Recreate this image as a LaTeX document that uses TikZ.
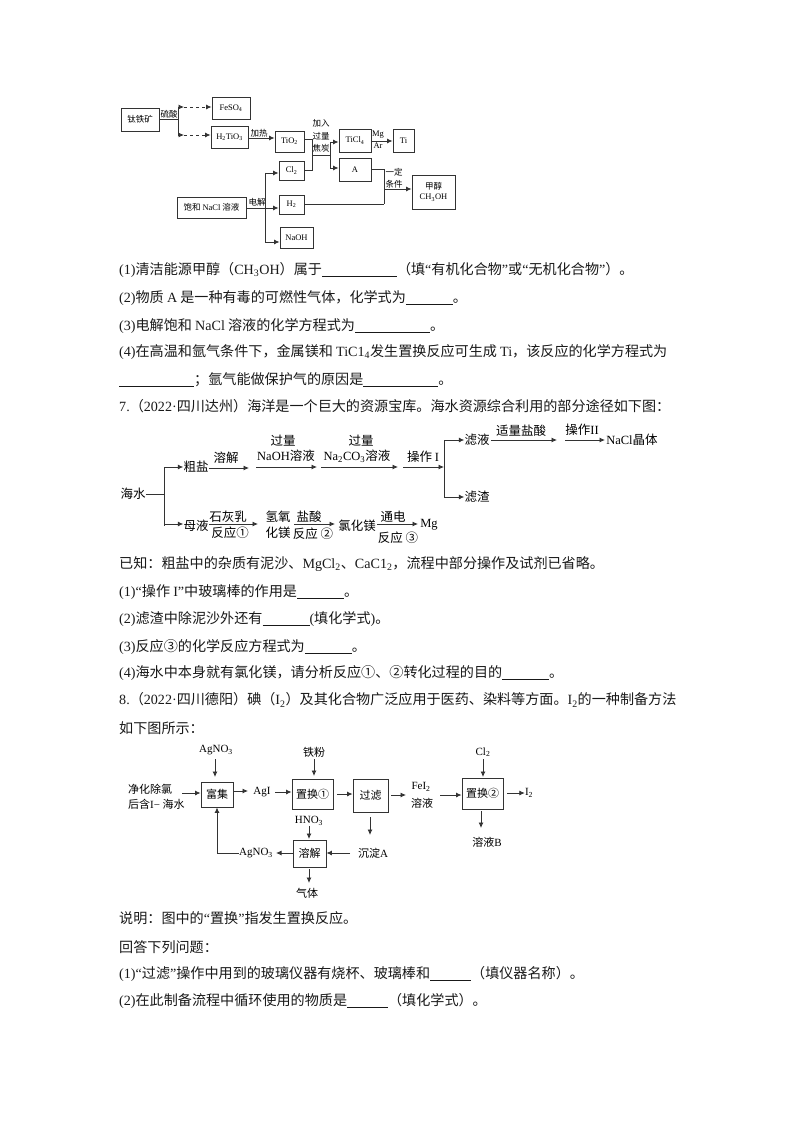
\documentclass[tikz,border=0pt]{standalone}
\usepackage{fontspec}
\setmainfont{Noto Sans CJK SC}
\newfontfamily\latfont{Liberation Serif}
\usetikzlibrary{arrows.meta,calc}
\newcommand{\lat}[1]{{\latfont #1}}
\newcommand{\sub}[1]{\textsubscript{#1}}
\newcommand{\blank}[1]{\rule[-2.5pt]{#1pt}{.8pt}}
\begin{document}
\begin{tikzpicture}[x=1pt,y=-1pt]
      \tikzstyle{box}=[draw=black!80,line width=.9pt,inner sep=0pt]
      \tikzstyle{boxa}=[box,font=\fontsize{8.5}{10}\selectfont]
      \tikzstyle{boxc}=[box,font=\fontsize{11}{13}\selectfont]
      \tikzstyle{taga}=[inner sep=0pt,font=\fontsize{8.5}{10}\selectfont]
      \tikzstyle{tagb}=[inner sep=0pt,font=\fontsize{12.5}{14}\selectfont]
      \tikzstyle{tagc}=[inner sep=0pt,font=\fontsize{11}{13}\selectfont]
      \tikzstyle{textline}=[anchor=west,inner sep=0pt,text=black!90,font=\fontsize{14.1}{16}\selectfont]
      \tikzstyle{wire}=[draw=black!80,line width=.85pt]
      \tikzstyle{flow}=[wire,-{Latex[length=5.5pt,width=5pt]}]
      \tikzstyle{dashflow}=[flow,dashed]

      \useasboundingbox (0,0) rectangle (794,1123);
      \fill[white] (0,0) rectangle (794,1123);

      % Draw the text lines of the page
      \foreach \name/\y/\txt in {
          qa/270/{\lat{(1)}清洁能源甲醇（\lat{CH\sub{3}OH}）属于\blank{75}（填\lat{“}有机化合物\lat{”}或\lat{“}无机化合物\lat{”}）。},
          qb/298/{\lat{(2)}物质 \lat{A} 是一种有毒的可燃性气体，化学式为\blank{47}。},
          qc/326/{\lat{(3)}电解饱和 \lat{NaCl} 溶液的化学方程式为\blank{75}。},
          qd/352/{\lat{(4)}在高温和氩气条件下，金属镁和 \lat{TiC1\sub{4}}发生置换反应可生成 \lat{Ti}，该反应的化学方程式为},
          qe/380/{\blank{75}；氩气能做保护气的原因是\blank{75}。},
          qf/406/{\lat{7.}（\lat{2022·}四川达州）海洋是一个巨大的资源宝库。海水资源综合利用的部分途径如下图：},
          ra/564/{已知：粗盐中的杂质有泥沙、\lat{MgCl\sub{2}}、\lat{CaC1\sub{2}}，流程中部分操作及试剂已省略。},
          rb/592/{\lat{(1)“}操作 \lat{I”}中玻璃棒的作用是\blank{47}。},
          rc/619/{\lat{(2)}滤渣中除泥沙外还有\blank{47}\lat{(}填化学式\lat{)}。},
          rd/647/{\lat{(3)}反应③的化学反应方程式为\blank{47}。},
          re/673/{\lat{(4)}海水中本身就有氯化镁，请分析反应①、②转化过程的目的\blank{47}。},
          rf/700/{\lat{8.}（\lat{2022·}四川德阳）碘（\lat{I\sub{2}}）及其化合物广泛应用于医药、染料等方面。\lat{I\sub{2}}的一种制备方法},
          rg/728/{如下图所示：},
          sa/918/{说明：图中的\lat{“}置换\lat{”}指发生置换反应。},
          sb/947/{回答下列问题：},
          sc/974/{\lat{(1)“}过滤\lat{”}操作中用到的玻璃仪器有烧杯、玻璃棒和\blank{41}（填仪器名称）。},
          sd/1001/{\lat{(2)}在此制备流程中循环使用的物质是\blank{41}（填化学式）。}}
          \node[textline] (\name) at (119,\y) {\txt};

      % Draw the titanium flow boxes
      \foreach \name/\xa/\ya/\xb/\yb/\txt in {
          ore/121/108/159/131/{钛铁矿},
          feso/212/97/250/119/{\lat{FeSO\sub{4}}},
          htio/211/126/248/148/{\lat{H\sub{2}TiO\sub{3}}},
          tio/275/131/304/152/{\lat{TiO\sub{2}}},
          ticl/339/129/371/152/{\lat{TiCl\sub{4}}},
          ti/393/129/414/152/{\lat{Ti}},
          cltwo/279/161/304/180/{\lat{Cl\sub{2}}},
          aa/339/158/371/181/{\lat{A}},
          brine/177/197/246/218/{饱和 \lat{NaCl} 溶液},
          htwo/279/195/304/214/{\lat{H\sub{2}}},
          naoh/280/227/313/248/{\lat{NaOH}}}
          \node[boxa,minimum width=\xb-\xa,minimum height=\yb-\ya] (\name) at ({(\xa+\xb)/2},{(\ya+\yb)/2}) {\txt};
      \node[boxa,minimum width=43,minimum height=34,align=center] (meoh) at (433.5,192) {甲醇\\\lat{CH\sub{3}OH}};

      % Draw the labels of the titanium flow
      \foreach \name/\x/\y/\txt in {
          ta/169/114/{硫酸},tb/259/133/{加热},
          tc/321/123/{加入},td/321/136/{过量},te/321/148/{焦炭},
          tf/378/135/{\lat{Mg}},tg/378/146/{\lat{Ar}},
          th/394/172/{一定},ti/394/184/{条件},tj/257/202/{电解}}
          \node[taga] (l-\name) at (\x,\y) {\txt};

      % Connect the titanium flow
      \coordinate (ja) at (178,119.5);
      \coordinate (jb) at (312,155);
      \coordinate (jc) at (330,155);
      \coordinate (jd) at (384,204);
      \coordinate (je) at (265,208);
      \draw[wire] (ore.east) -- (ja);
      \draw[wire] (ja |- 0,107) -- (ja |- 0,135);
      \draw[flow] (ja |- 0,107) -- (184,107);
      \draw[dashflow] (184,107) -- (feso.west |- 0,107);
      \draw[flow] (ja |- 0,135) -- (184,135);
      \draw[dashflow] (184,135) -- (htio.west |- 0,135);
      \draw[flow] (248,138) -- (tio.west |- 0,138);
      \draw[wire] (304,139) -| (jb);
      \draw[wire] (cltwo.east) -| (jb);
      \draw[wire] (jb) -- (jc);
      \draw[flow] (jc) |- (ticl.west |- 0,142);
      \draw[flow] (jc) |- (aa.west |- 0,168);
      \draw[flow] (371,141) -- (ti.west |- 0,141);
      \draw[wire] (aa.east) -| (jd);
      \draw[wire] (htwo.east |- jd) -- (jd);
      \draw[flow] (jd |- 0,189) -- (meoh.west |- 0,189);
      \draw[wire] (brine.east |- je) -- (je);
      \draw[wire] (je |- 0,173) -- (je |- 0,242);
      \draw[flow] (je |- 0,173) -- (cltwo.west |- 0,173);
      \draw[flow] (je) -- (htwo.west |- 0,208);
      \draw[flow] (je |- 0,242) -- (naoh.west |- 0,242);

      % Draw the sea water flow
      \foreach \name/\x/\y/\txt in {
          sea/133/494/{海水},
          crude/196/467/{粗盐},
          mother/196/526/{母液},
          filt/477/440/{滤液},
          resid/477/497/{滤渣},
          nacl/632/440/{\lat{NaCl}晶体},
          hydro/278/517/{氢氧},
          hydrob/278/533/{化镁},
          mgcl/357/526/{氯化镁},
          mg/429/525/{\lat{Mg}},
          ua/226/458/{溶解},
          ub/283/441/{过量},
          uc/286/456/{\lat{NaOH}溶液},
          ud/361/441/{过量},
          ue/357/456/{\lat{Na\sub{2}CO\sub{3}}溶液},
          uf/423/457/{操作 \lat{I}},
          ug/521/431/{适量盐酸},
          uh/582/430/{操作\lat{II}},
          ui/228/517/{石灰乳},
          uj/230/533/{反应①},
          uk/309/517/{盐酸},
          ul/313/534/{反应 ②},
          um/393/517/{通电},
          un/398/538/{反应 ③}}
          \node[tagb] (\name) at (\x,\y) {\txt};

      % Connect the sea water flow
      \coordinate (sa) at (164,494);
      \coordinate (sb) at (444,467);
      \draw[wire] (sea.east) -- (sa);
      \draw[wire] (sa |- crude) -- (sa |- mother);
      \draw[flow] (sa |- crude) -- (crude.west);
      \draw[flow] (sa |- 0,524) -- (mother.west |- 0,524);
      \foreach \xa/\xb/\y in {209/249/468,256/317/467,321/398/467,403/444/467,491/557/440,565/605/440,
          209/258/524,294/335/524,377/418/524}
          {
          \coordinate (fa-\xa) at (\xa,\y);
          \coordinate (fb-\xa) at (\xb,\y);
          \draw[flow] (fa-\xa) -- (fb-\xa);
          }
      \draw[wire] (sb |- filt) -- (sb |- resid);
      \draw[flow] (sb |- filt) -- (filt.west);
      \draw[flow] (sb |- resid) -- (resid.west);

      % Draw the iodine flow boxes
      \foreach \name/\xa/\ya/\xb/\yb/\txt in {
          rich/201/782/233/807/{富集},
          repa/292/779/333/809/{置换①},
          filter/353/779/388/812/{过滤},
          repb/462/778/503/809/{置换②},
          dissolve/293/840/326/867/{溶解}}
          \node[boxc,minimum width=\xb-\xa,minimum height=\yb-\ya] (\name) at ({(\xa+\xb)/2},{(\ya+\yb)/2}) {\txt};

      % Draw the iodine flow labels
      \foreach \name/\x/\y/\txt in {
          agnotop/216/750/{\lat{AgNO\sub{3}}},
          agi/262/792/{\lat{AgI}},
          iron/314/752/{铁粉},
          feitwo/421/787/{\lat{FeI\sub{2}}},
          soln/422/803/{溶液},
          cltop/483/752/{\lat{Cl\sub{2}}},
          itwo/529/793/{\lat{I\sub{2}}},
          solb/487/842/{溶液\lat{B}},
          hno/309/821/{\lat{HNO\sub{3}}},
          agnolow/256/853/{\lat{AgNO\sub{3}}},
          sedim/373/853/{沉淀\lat{A}},
          gas/307/893/{气体}}
          \node[tagc] (\name) at (\x,\y) {\txt};
      \node[tagc,anchor=west] (seaa) at (128,789) {净化除氯};
      \node[tagc,anchor=west] (seab) at (128,804) {后含\lat{I−} 海水};

      % Connect the iodine flow
      \coordinate (ka) at (182,793);
      \coordinate (kb) at (440,795);
      \coordinate (kc) at (350,853);
      \draw[flow] (ka) -- (rich.west |- ka);
      \draw[flow] (rich.east |- 0,791) -- (248,791);
      \draw[flow] (275,792) -- (repa.west |- 0,792);
      \draw[flow] (337,794) -- (filter.west |- 0,794);
      \draw[flow] (391,795) -- (406,795);
      \draw[flow] (kb) -- (repb.west |- kb);
      \draw[flow] (507,793) -- (itwo.west |- 0,793);
      \draw[flow] (215,759) -- (215,777);
      \draw[flow] (iron.south |- 0,759) -- (iron.south |- 0,776);
      \draw[flow] (cltop.south |- 0,759) -- (cltop.south |- 0,777);
      \draw[flow] (481,811) -- (481,828);
      \draw[flow] (370,817) -- (370,835);
      \draw[flow] (309,826) -- (309,839);
      \draw[flow] (kc) -- (dissolve.east |- kc);
      \draw[flow] (dissolve.west |- 0,853) -- (276,853);
      \draw[flow] (agnolow.west) -| (rich.south);
      \draw[flow] (309,869) -- (309,883);
\end{tikzpicture}
\end{document}
